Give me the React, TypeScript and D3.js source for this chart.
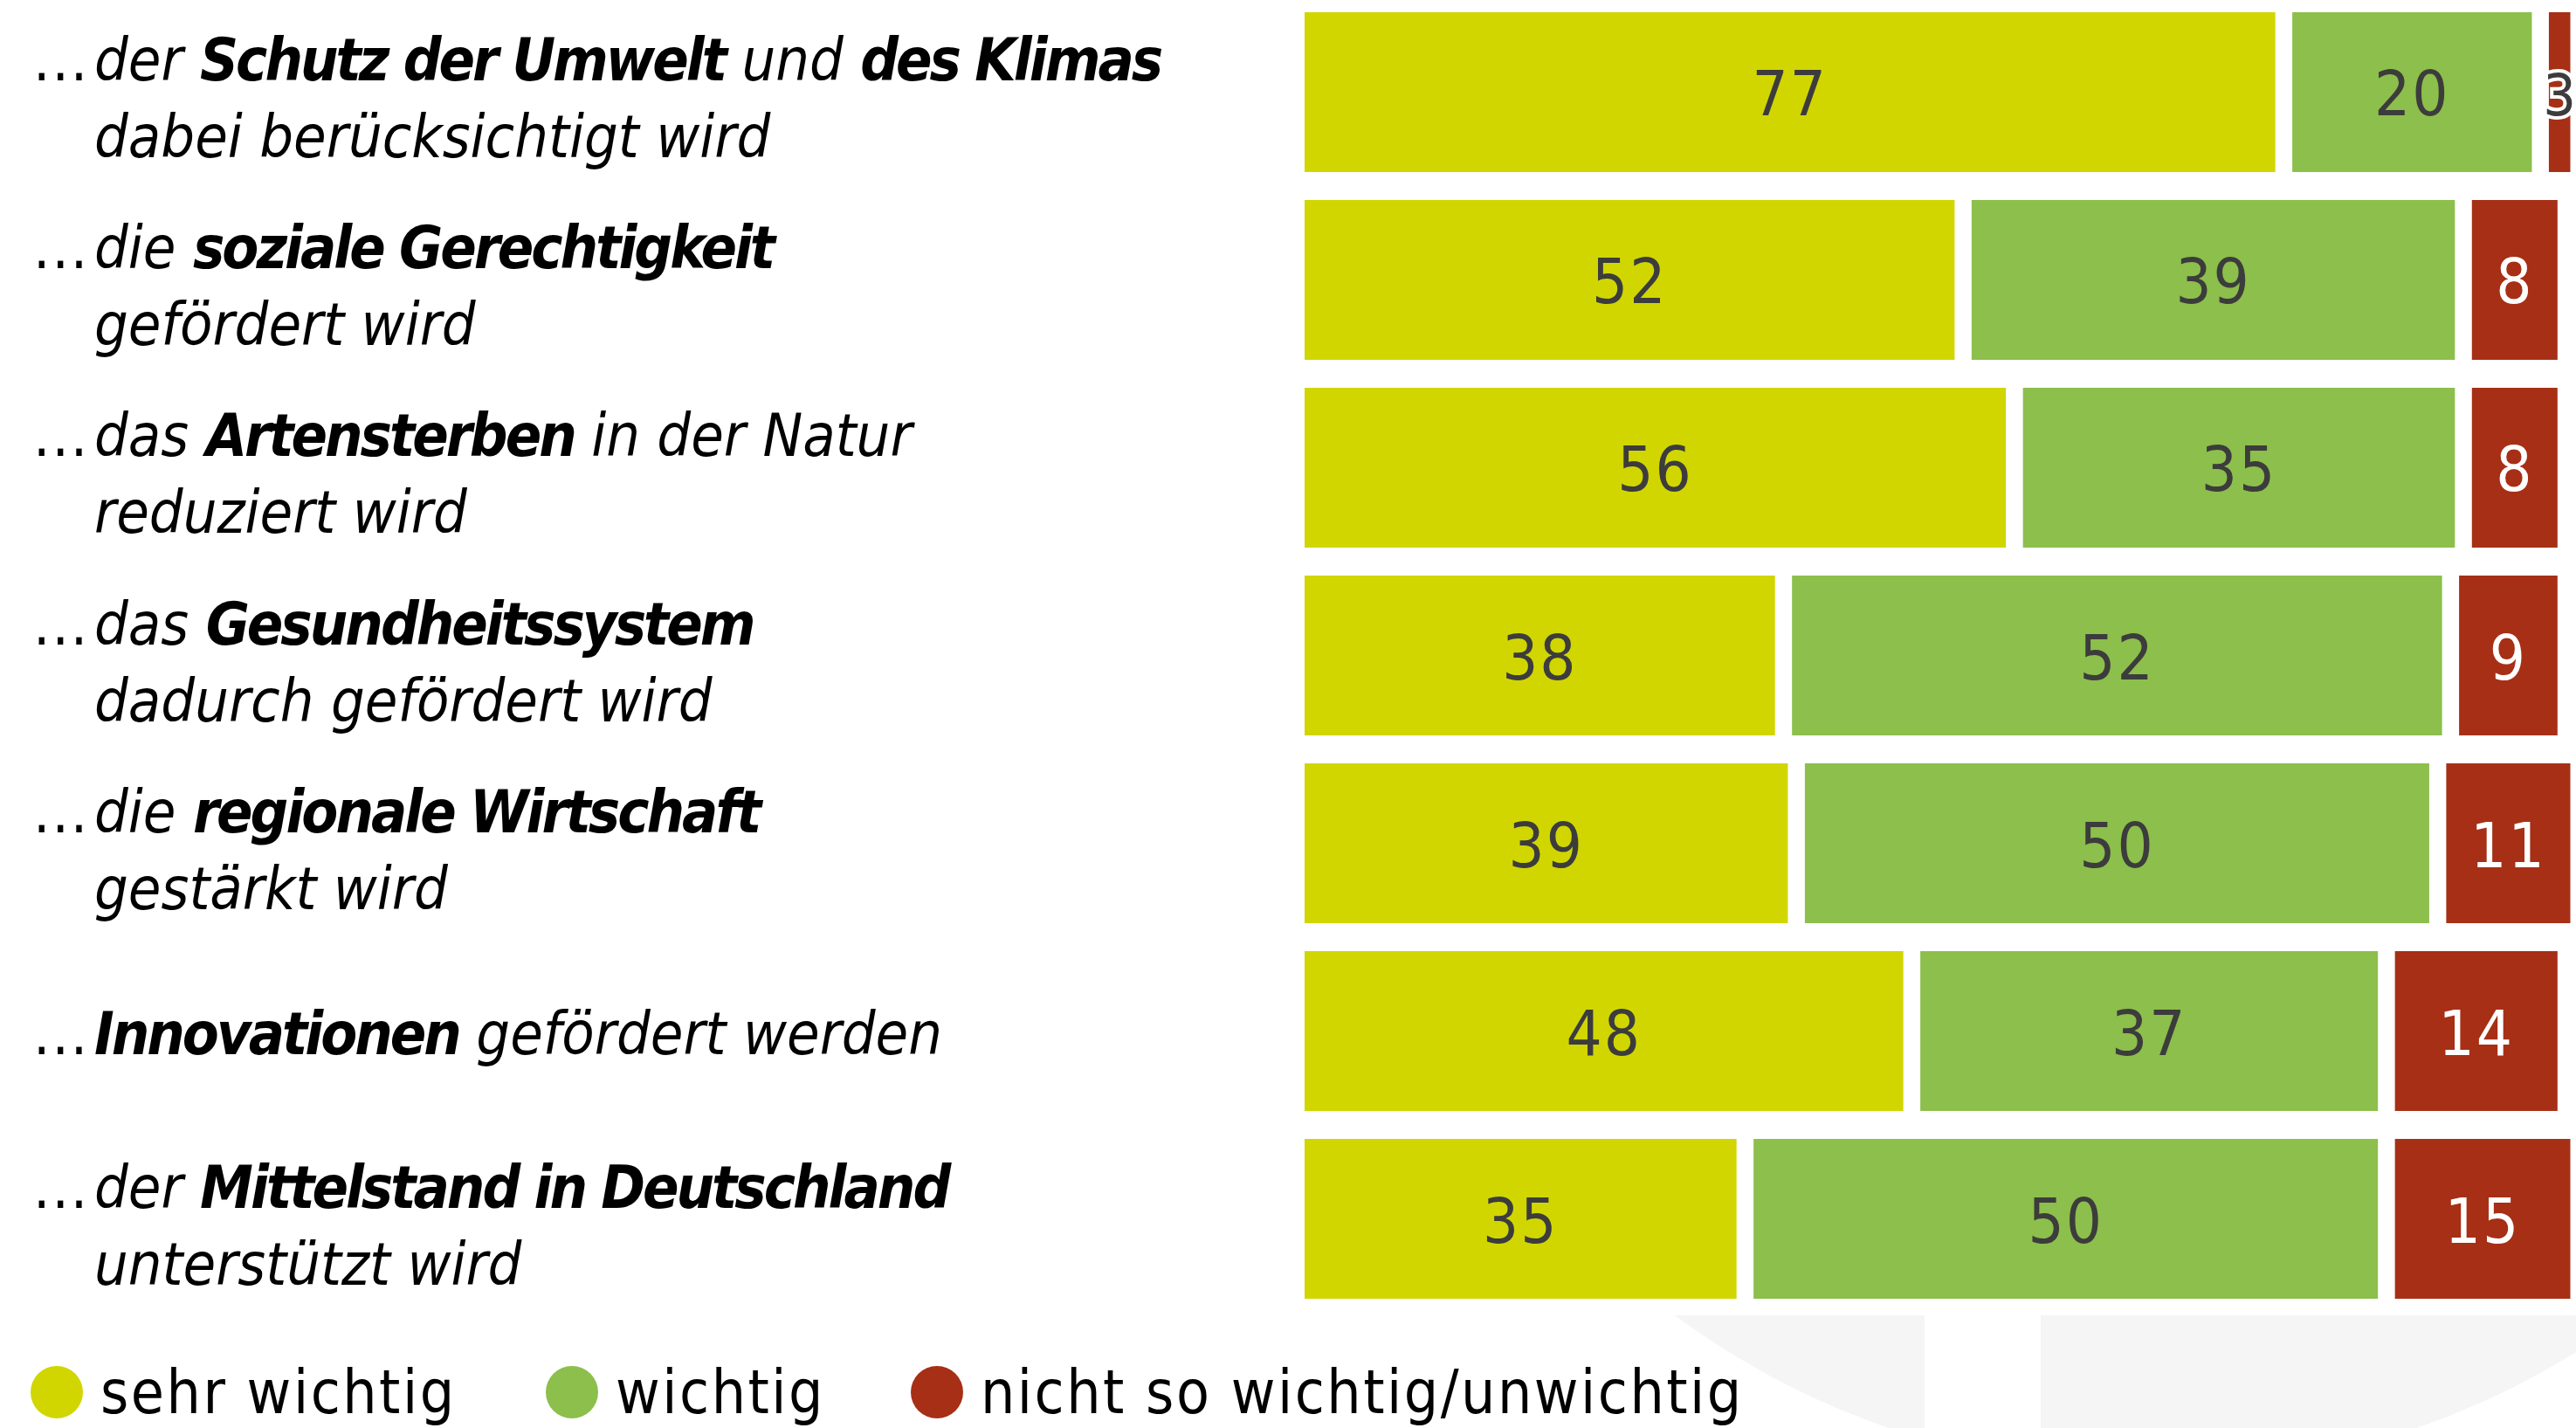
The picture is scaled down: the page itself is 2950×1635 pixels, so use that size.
import React from "react";
import * as d3 from "d3";

const categories = ["schutz", "gerechtigkeit", "arten", "gesundheit", "wirtschaft", "innovation", "mittelstand"];

type Seg = [string, boolean];
const labelLines: Seg[][][] = [
  [[["der ", false], ["Schutz der Umwelt", true], [" und ", false], ["des Klimas", true]], [["dabei berücksichtigt wird", false]]],
  [[["die ", false], ["soziale Gerechtigkeit", true]], [["gefördert wird", false]]],
  [[["das ", false], ["Artensterben", true], [" in der Natur", false]], [["reduziert wird", false]]],
  [[["das ", false], ["Gesundheitssystem", true]], [["dadurch gefördert wird", false]]],
  [[["die ", false], ["regionale Wirtschaft", true]], [["gestärkt wird", false]]],
  [[["Innovationen", true], [" gefördert werden", false]]],
  [[["der ", false], ["Mittelstand in Deutschland", true]], [["unterstützt wird", false]]],
];

const sehrWichtig = [77, 52, 56, 38, 39, 48, 35];
const wichtig = [20, 39, 35, 52, 50, 37, 50];
const nichtWichtig = [3, 8, 8, 9, 11, 14, 15];

const seriesKeys = ["sehr", "wichtig", "nicht"];
const seriesNames = ["sehr wichtig", "wichtig", "nicht so wichtig/unwichtig"];
const seriesColors = ["#D1D600", "#8CBF4B", "#A62F15"];
const labelColorsFixed = ["#3C3C3C", "#3C3C3C", "#FFFFFF"];

const W = 2950;
const H = 1635;
const FONT = "'DejaVu Sans Condensed', 'DejaVu Sans', sans-serif";

export default function App() {
  const rows = categories.map((c, i) => ({
    cat: c,
    sehr: sehrWichtig[i],
    wichtig: wichtig[i],
    nicht: nichtWichtig[i],
  }));
  const stack = d3.stack<any>().keys(seriesKeys)(rows);

  const x = d3.scaleLinear().domain([0, 100]).range([1494, 1494 + 1469]);
  const y = d3.scaleBand().domain(categories).range([14, 1487]).paddingInner(0.149).paddingOuter(0);
  const gap = 19.5;
  const bh = y.bandwidth();

  // decorative background circle
  const cx = 2465, cy = 764, r = 922;
  const arcPath = d3.path();
  arcPath.arc(cx, cy, r, 0, Math.PI * 2);

  const legendX = [65, 655, 1073];

  return (
    <svg width={W} height={H} style={{ position: "absolute", left: 0, top: 0, background: "#fff" }}>
      <defs>
        <clipPath id="bgclip">
          <rect x={0} y={1506} width={2204} height={200} />
          <rect x={2337} y={1506} width={700} height={200} />
        </clipPath>
      </defs>
      <path d={arcPath.toString()} fill="#F5F5F5" clipPath="url(#bgclip)" />

      {stack.map((s, si) =>
        s.map((d, i) => {
          const x0 = x(d[0]);
          const w = x(d[1]) - x(d[0]) - gap;
          const yy = y(categories[i])!;
          const v = d[1] - d[0];
          const small = w < 45;
          return (
            <g key={`${si}-${i}`}>
              <rect x={x0} y={yy} width={w} height={bh} fill={seriesColors[si]} />
              <text
                x={x0 + w / 2}
                y={yy + bh / 2 + 27}
                textAnchor="middle"
                fontFamily={FONT}
                fontStretch="condensed"
                fontSize={small ? 66 : 72}
                fill={small ? "#3C3C3C" : labelColorsFixed[si]}
                stroke={small ? "#FFFFFF" : "none"}
                strokeWidth={small ? 8 : 0}
                style={{ paintOrder: "stroke" } as any}
                letterSpacing={small ? 0 : 2}
              >
                {v}
              </text>
            </g>
          );
        })
      )}

      {labelLines.map((lines, i) => {
        const center = y(categories[i])! + bh / 2;
        const base = lines.length === 1 ? center + 26 : center - 13;
        return (
          <g key={i} fontFamily={FONT} fontStretch="condensed" fontSize={68} fontStyle="italic" fill="#000">
            <text x={38} y={base} fontStyle="normal" letterSpacing={2}>...</text>
            {lines.map((segs, li) => (
              <text key={li} x={108} y={base + li * 88}>
                {segs.map((sg, k) => (
                  <tspan key={k} fontWeight={sg[1] ? "bold" : "normal"} letterSpacing={sg[1] ? -3 : 0}>
                    {sg[0]}
                  </tspan>
                ))}
              </text>
            ))}
          </g>
        );
      })}

      {seriesNames.map((n, i) => (
        <g key={n}>
          <circle cx={legendX[i]} cy={1594} r={30} fill={seriesColors[i]} />
          <text
            x={legendX[i] + 50}
            y={1618}
            fontFamily={FONT}
            fontStretch="condensed"
            fontSize={69}
            letterSpacing={2.5}
            fill="#000"
          >
            {n}
          </text>
        </g>
      ))}
    </svg>
  );
}
